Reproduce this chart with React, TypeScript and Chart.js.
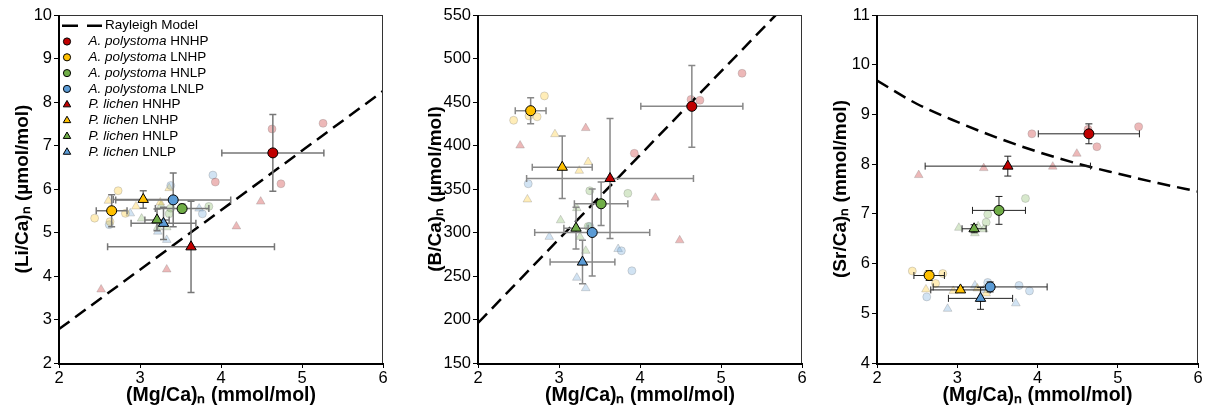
import React, { useEffect, useRef } from "react";
import { Chart, registerables } from "chart.js";

Chart.register(...registerables);

const FONT = "'Liberation Sans', Arial, Helvetica, sans-serif";

// Series: A. polystoma HNHP, LNHP, HNLP, LNLP, then P. lichen HNHP, LNHP, HNLP, LNLP
const SPECIES = ["A. polystoma", "P. lichen"];
const GROUPS = ["HNHP", "LNHP", "HNLP", "LNLP"];
const COLORS = ["#C00000", "#FFC000", "#70AD47", "#5B9BD5"];
const RGB = ["192,0,0", "255,192,0", "112,173,71", "91,155,213"];

// Group means (large markers) and their error bars
const mgMean = [4.64, 2.65, 3.52, 3.41, 3.63, 3.04, 3.21, 3.29];
const mgErr = [0.63, 0.19, 0.33, 0.71, 1.03, 0.37, 0.15, 0.4];
const liMean = [6.83, 5.5, 5.55, 5.75, 4.67, 5.76, 5.29, 5.21];
const liErr = [0.88, 0.37, 0.1, 0.62, 1.05, 0.2, 0.25, 0.37];
const bMean = [445, 440, 333, 300, 362, 375, 305, 266];
const bErr = [47, 15, 25, 50, 69, 36, 24, 25];
const srMean = [8.61, 5.76, 7.07, 5.53, 7.96, 5.47, 6.7, 5.3];
const srErr = [0.2, 0.1, 0.28, 0.1, 0.2, 0.05, 0.08, 0.22];

// Individual replicates (faint markers)
const repMg = [
  [3.93, 4.63, 4.74, 5.26],
  [2.44, 2.63, 2.73, 2.82],
  [3.36, 3.38, 3.85],
  [2.62, 3.38, 3.77, 3.9],
  [2.52, 3.33, 4.19, 4.49],
  [2.61, 2.95, 3.25, 3.36],
  [3.02, 3.22, 3.26, 3.33],
  [2.88, 3.22, 3.33, 3.73],
];
const repLi = [
  [6.16, 7.38, 6.12, 7.51],
  [5.33, 5.25, 5.96, 5.44],
  [5.43, 5.56, 5.6],
  [5.18, 6.08, 5.43, 6.32],
  [3.69, 4.15, 5.14, 5.71],
  [5.73, 5.6, 5.69, 6.02],
  [5.32, 5.12, 5.62, 5.12],
  [5.44, 5.02, 4.83, 5.55],
];
const repB = [
  [391, 453, 452, 483],
  [429, 434, 433, 457],
  [307, 348, 345],
  [356, 307, 279, 256],
  [400, 420, 340, 291],
  [338, 413, 371, 381],
  [314, 328, 295, 279],
  [295, 248, 236, 281],
];
const repSr = [
  [8.61, 8.7, 8.35, 8.75],
  [5.85, 5.78, 5.6, 5.8],
  [6.83, 6.99, 7.31],
  [5.33, 5.62, 5.56, 5.45],
  [7.78, 7.92, 7.95, 8.21],
  [5.48, 5.45, 5.5, 5.4],
  [6.72, 6.61, 6.75, 6.69],
  [5.09, 5.56, 5.47, 5.2],
];

// Rayleigh model curves
const rayLiX = [2, 4, 6];
const rayLiY = [2.78, 5.51, 8.25];
const rayBX = [2, 4, 6];
const rayBY = [196, 389, 581];
const raySrX = [2, 2.5, 3, 3.5, 4, 4.5, 5, 5.5, 6];
const raySrY = [9.68, 9.21, 8.85, 8.53, 8.25, 8.01, 7.81, 7.62, 7.45];

const X_TITLE = "(Mg/Ca)ₙ (mmol/mol)";
const LEGEND_RAY = "Rayleigh Model";

type Spec = {
  left: number;
  width: number;
  yAxisWidth: number;
  padRight: number;
  yTitle: string;
  yTitlePad: number;
  yMin: number;
  yMax: number;
  yStep: number;
  yMean: number[];
  yErr: number[];
  yRep: number[][];
  rayX: number[];
  rayY: number[];
  curved: boolean;
  errColor: string;
  errWidth: number;
  legend: boolean;
};

const specs: Spec[] = [
  {
    left: 0, width: 395, yAxisWidth: 59, padRight: 12,
    yTitle: "(Li/Ca)ₙ (µmol/mol)", yTitlePad: 11,
    yMin: 2, yMax: 10, yStep: 1,
    yMean: liMean, yErr: liErr, yRep: repLi,
    rayX: rayLiX, rayY: rayLiY, curved: false,
    errColor: "#777", errWidth: 1.5, legend: true,
  },
  {
    left: 395, width: 415, yAxisWidth: 83, padRight: 8,
    yTitle: "(B/Ca)ₙ (µmol/mol)", yTitlePad: 29,
    yMin: 150, yMax: 550, yStep: 50,
    yMean: bMean, yErr: bErr, yRep: repB,
    rayX: rayBX, rayY: rayBY, curved: false,
    errColor: "#888", errWidth: 1.5, legend: false,
  },
  {
    left: 810, width: 395, yAxisWidth: 67, padRight: 4,
    yTitle: "(Sr/Ca)ₙ (mmol/mol)", yTitlePad: 19,
    yMin: 4, yMax: 11, yStep: 1,
    yMean: srMean, yErr: srErr, yRep: repSr,
    rayX: raySrX, rayY: raySrY, curved: true,
    errColor: "#222", errWidth: 1, legend: false,
  },
];

const RAY_INDEX = 8;

function buildConfig(spec: Spec): any {
  const datasets: any[] = [];
  for (let i = 0; i < 8; i++) {
    const tri = i >= 4;
    datasets.push({
      label: `${SPECIES[tri ? 1 : 0]} ${GROUPS[i % 4]}`,
      data: [{ x: mgMean[i], y: spec.yMean[i] }],
      pointStyle: tri ? "triangle" : "circle",
      pointRadius: tri ? 6 : 5,
      backgroundColor: COLORS[i % 4],
      borderColor: "#000",
      borderWidth: 1,
      order: 0,
    });
  }
  datasets.push({
    label: LEGEND_RAY,
    data: spec.rayX.map((x, k) => ({ x, y: spec.rayY[k] })),
    showLine: true,
    borderColor: "#000",
    borderWidth: 2.5,
    borderDash: [13, 7],
    pointRadius: 0,
    fill: false,
    cubicInterpolationMode: spec.curved ? "monotone" : "default",
    order: 1,
  });
  for (let i = 0; i < 8; i++) {
    const tri = i >= 4;
    datasets.push({
      label: `${SPECIES[tri ? 1 : 0]} ${GROUPS[i % 4]} replicates`,
      data: repMg[i].map((x, k) => ({ x, y: spec.yRep[i][k] })),
      pointStyle: tri ? "triangle" : "circle",
      pointRadius: tri ? 5 : 4,
      backgroundColor: `rgba(${RGB[i % 4]},0.28)`,
      borderColor: "rgba(120,120,120,0.28)",
      borderWidth: 1,
      order: 2,
    });
  }

  const errPlugin = {
    id: "errbars",
    afterDatasetDraw(chart: any, args: any) {
      if (args.index !== RAY_INDEX) return;
      const xs = chart.scales.x;
      const ys = chart.scales.y;
      const ctx = chart.ctx;
      ctx.save();
      ctx.strokeStyle = spec.errColor;
      ctx.lineWidth = spec.errWidth;
      const cap = 3.5;
      for (let i = 0; i < 8; i++) {
        const cx = xs.getPixelForValue(mgMean[i]);
        const cy = ys.getPixelForValue(spec.yMean[i]);
        const x1 = xs.getPixelForValue(mgMean[i] - mgErr[i]);
        const x2 = xs.getPixelForValue(mgMean[i] + mgErr[i]);
        const y1 = ys.getPixelForValue(spec.yMean[i] - spec.yErr[i]);
        const y2 = ys.getPixelForValue(spec.yMean[i] + spec.yErr[i]);
        ctx.beginPath();
        ctx.moveTo(x1, cy);
        ctx.lineTo(x2, cy);
        ctx.moveTo(cx, y1);
        ctx.lineTo(cx, y2);
        ctx.moveTo(x1, cy - cap);
        ctx.lineTo(x1, cy + cap);
        ctx.moveTo(x2, cy - cap);
        ctx.lineTo(x2, cy + cap);
        ctx.moveTo(cx - cap, y1);
        ctx.lineTo(cx + cap, y1);
        ctx.moveTo(cx - cap, y2);
        ctx.lineTo(cx + cap, y2);
        ctx.stroke();
      }
      ctx.restore();
    },
  };

  const framePlugin = {
    id: "frame",
    afterDraw(chart: any) {
      const { left, right, top, bottom } = chart.chartArea;
      const ctx = chart.ctx;
      ctx.save();
      ctx.strokeStyle = "#333";
      ctx.lineWidth = 1;
      ctx.beginPath();
      ctx.moveTo(left, top + 0.5);
      ctx.lineTo(right, top + 0.5);
      ctx.moveTo(right - 0.5, top);
      ctx.lineTo(right - 0.5, bottom);
      ctx.stroke();
      ctx.strokeStyle = "#000";
      ctx.lineWidth = 2;
      ctx.beginPath();
      ctx.moveTo(left, top);
      ctx.lineTo(left, bottom + 1);
      ctx.lineTo(right, bottom + 1);
      ctx.stroke();
      ctx.restore();
    },
  };

  const legendPlugin = {
    id: "legendInside",
    afterDraw(chart: any) {
      if (!spec.legend) return;
      const { left, top } = chart.chartArea;
      const ctx = chart.ctx;
      const size = 13.5;
      const dy = 15.8;
      const y0 = top + 10.7;
      ctx.save();
      ctx.textBaseline = "middle";
      ctx.fillStyle = "#000";
      // Rayleigh row
      ctx.strokeStyle = "#000";
      ctx.lineWidth = 2.5;
      ctx.beginPath();
      ctx.moveTo(left + 3, y0);
      ctx.lineTo(left + 19, y0);
      ctx.moveTo(left + 28, y0);
      ctx.lineTo(left + 43, y0);
      ctx.stroke();
      ctx.font = `${size}px ${FONT}`;
      ctx.fillText(LEGEND_RAY, left + 46, y0);
      for (let i = 0; i < 8; i++) {
        const tri = i >= 4;
        const y = y0 + dy * (i + 1);
        const mx = left + 8;
        ctx.fillStyle = COLORS[i % 4];
        ctx.strokeStyle = "#000";
        ctx.lineWidth = 1;
        ctx.beginPath();
        if (tri) {
          const r = 4.3;
          ctx.moveTo(mx, y - r);
          ctx.lineTo(mx + r * 0.866, y + r * 0.5);
          ctx.lineTo(mx - r * 0.866, y + r * 0.5);
          ctx.closePath();
        } else {
          ctx.arc(mx, y, 3.6, 0, Math.PI * 2);
        }
        ctx.fill();
        ctx.stroke();
        ctx.fillStyle = "#000";
        const sp = SPECIES[tri ? 1 : 0];
        ctx.font = `italic ${size}px ${FONT}`;
        ctx.fillText(sp, left + 29.5, y);
        const w = ctx.measureText(sp + " ").width;
        ctx.font = `${size}px ${FONT}`;
        ctx.fillText(GROUPS[i % 4], left + 29.5 + w, y);
      }
      ctx.restore();
    },
  };

  return {
    type: "scatter",
    data: { datasets },
    plugins: [errPlugin, framePlugin, legendPlugin],
    options: {
      responsive: false,
      animation: false,
      devicePixelRatio: 1,
      layout: { padding: { left: 0, right: spec.padRight, top: 15, bottom: 0 } },
      plugins: { legend: { display: false }, tooltip: { enabled: false } },
      scales: {
        x: {
          type: "linear",
          min: 2,
          max: 6,
          ticks: { stepSize: 1, color: "#000", padding: 1, font: { family: FONT, size: 16.5 } },
          grid: { display: true, drawOnChartArea: false, drawTicks: true, tickLength: 5, color: "#000", lineWidth: 1 },
          border: { display: false },
          title: {
            display: true,
            text: X_TITLE,
            color: "#000",
            font: { family: FONT, size: 19.5, weight: "bold" },
            padding: { top: 0, bottom: 6 },
          },
          afterFit: (s: any) => {
            s.height = 50;
          },
        },
        y: {
          type: "linear",
          min: spec.yMin,
          max: spec.yMax,
          ticks: { stepSize: spec.yStep, color: "#000", padding: 2, font: { family: FONT, size: 16.5 } },
          grid: { display: true, drawOnChartArea: false, drawTicks: true, tickLength: 5, color: "#000", lineWidth: 1 },
          border: { display: false },
          title: {
            display: true,
            text: spec.yTitle,
            color: "#000",
            font: { family: FONT, size: 19, weight: "bold" },
            padding: { top: spec.yTitlePad, bottom: 0 },
          },
          afterFit: (s: any) => {
            s.width = spec.yAxisWidth;
          },
        },
      },
    },
  };
}

function Panel({ spec }: { spec: Spec }) {
  const ref = useRef<HTMLCanvasElement | null>(null);
  useEffect(() => {
    if (!ref.current) return;
    const chart = new Chart(ref.current, buildConfig(spec));
    return () => chart.destroy();
  }, [spec]);
  return (
    <canvas
      ref={ref}
      width={spec.width}
      height={413}
      style={{ position: "absolute", left: spec.left, top: 0, width: spec.width, height: 413 }}
    />
  );
}

export default function App() {
  return (
    <div style={{ position: "absolute", left: 0, top: 0, width: 1205, height: 413, background: "#fff", overflow: "hidden" }}>
      {specs.map((s, i) => (
        <Panel key={i} spec={s} />
      ))}
    </div>
  );
}
